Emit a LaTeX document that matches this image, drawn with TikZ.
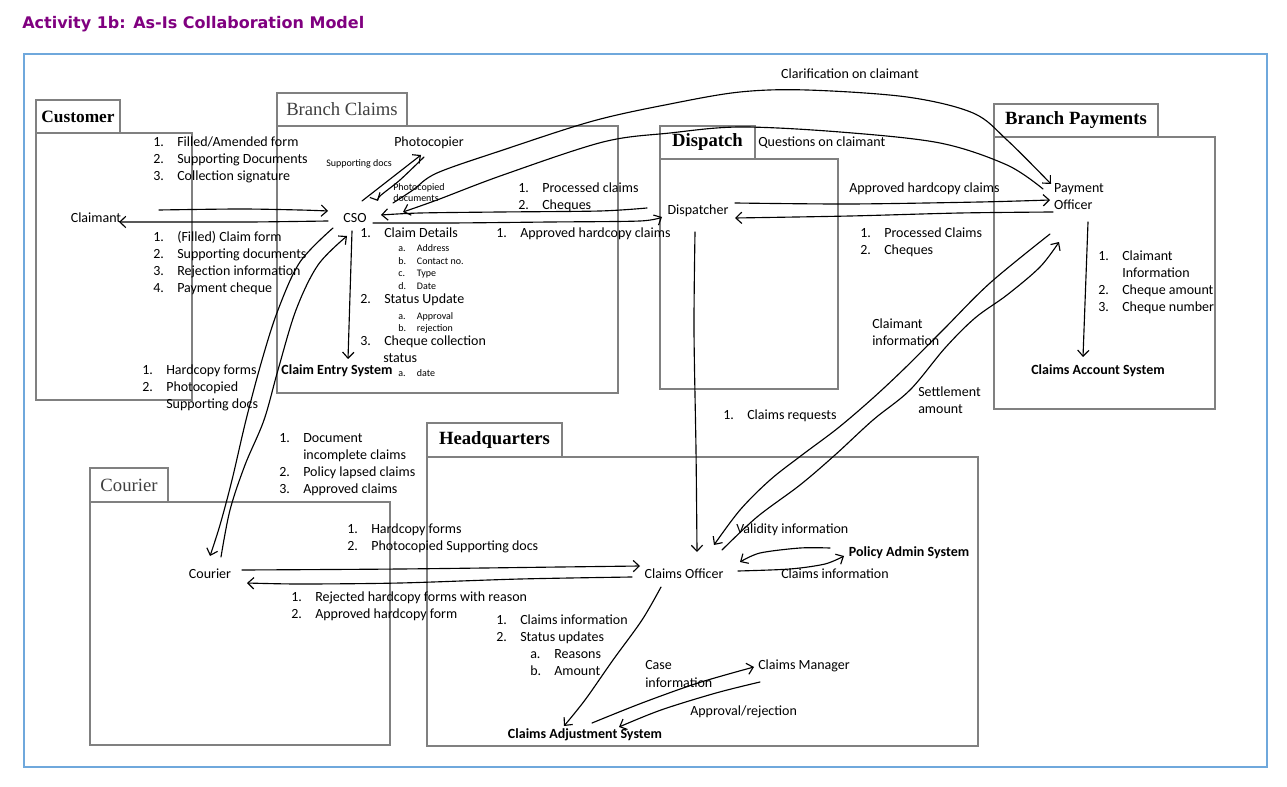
\documentclass[tikz,border=0pt]{standalone}
\usepackage{fontspec}
\setmainfont{Carlito}
\newfontfamily\tabfont{Liberation Serif}
\newfontfamily\titlefont{DejaVu Sans}
\usetikzlibrary{arrows.meta}
\definecolor{framecol}{HTML}{6FA8DC}
\definecolor{titlecol}{HTML}{800080}
\definecolor{lanecol}{HTML}{808080}
\definecolor{tabgrey}{HTML}{404040}
\newcommand\fBody{\fontsize{10.5pt}{12.75pt}\selectfont}
\newcommand\fSmall{\fontsize{7.5pt}{9pt}\selectfont}
\newcommand\fTab{\tabfont\bfseries\fontsize{14pt}{16pt}\selectfont}
\newcommand\fTabR{\tabfont\fontsize{14pt}{16pt}\selectfont\color{tabgrey}}
\tikzset{
  lane/.style={draw=lanecol, line width=1.1pt},
  tabbox/.style={draw=lanecol, line width=1.1pt, fill=white, inner sep=0pt, font=\fTab},
  lbl/.style={anchor=west, inner sep=0pt, text height=6.8pt, text depth=0pt, font=\fBody},
  slbl/.style={anchor=west, inner sep=0pt, text height=4.9pt, text depth=0pt, font=\fSmall},
  actor/.style={inner sep=0pt, text height=6.8pt, text depth=0pt, font=\fBody},
  sysn/.style={actor, font=\fBody\bfseries},
  flow/.style={draw, line width=0.85pt, line cap=round, line join=round,
    -{Straight Barb[length=4.5pt,width=8.5pt]}},
}
\newcommand\LI[5]{\node[lbl] (#1) at (#2,#3) {\makebox[18pt][l]{#4}#5};}
\newcommand\LS[5]{\node[slbl] (#1) at (#2,#3) {\makebox[14pt][l]{#4}#5};}
\newcommand\LT[4]{\node[lbl] (#1) at (#2,#3) {#4};}
\begin{document}
\begin{tikzpicture}[x=0.75pt,y=-0.75pt]
\useasboundingbox (0,0) rectangle (1287,787);
% title and frame
\node[anchor=west, inner sep=0pt, font=\titlefont\bfseries\fontsize{12pt}{14pt}\selectfont, text=titlecol] (title) at (22,24) {Activity 1b: As-Is Collaboration Model};
\draw[framecol, line width=1.1pt] (24,54) rectangle (1267,767);
% lanes
\draw[lane] (36,133) rectangle (192,400);
\node[tabbox, minimum width=63pt, minimum height=24.75pt, font=\tabfont\bfseries\fontsize{13pt}{15pt}\selectfont] (tabCustomer) at (78,116.5) {Customer};
\draw[lane] (277,126) rectangle (618,393);
\node[tabbox, minimum width=97.5pt, minimum height=24.75pt, font=\fTabR] (tabBranchClaims) at (342,109.5) {Branch Claims};
\draw[lane] (660,159) rectangle (838,389);
\node[tabbox, minimum width=71.25pt, minimum height=24.75pt] (tabDispatch) at (707.5,142.5) {Dispatch};
\draw[lane] (994,137) rectangle (1215,409);
\node[tabbox, minimum width=123pt, minimum height=24.75pt] (tabBranchPayments) at (1076,120.5) {Branch Payments};
\draw[lane] (90,502) rectangle (390,745);
\node[tabbox, minimum width=58.5pt, minimum height=25.5pt, font=\fTabR] (tabCourier) at (129,485) {Courier};
\draw[lane] (427,457) rectangle (978,746);
\node[tabbox, minimum width=101.25pt, minimum height=25.5pt] (tabHQ) at (494.5,440) {Headquarters};
% actors and systems
\node[actor] (claimant) at (96,218) {Claimant};
\node[actor] (cso) at (355,218) {CSO};
\node[actor] (photo) at (429,142) {Photocopier};
\node[sysn] (ces) at (337,370) {Claim Entry System};
\node[actor] (disp) at (698,210) {Dispatcher};
\node[inner sep=0pt, font=\fBody, align=left] (po) at (1079,197) {Payment\\Officer};
\node[sysn] (cas) at (1098,370) {Claims Account System};
\node[actor] (courier) at (210,574) {Courier};
\node[actor] (co) at (684,574) {Claims Officer};
\node[sysn] (pas) at (909,552) {Policy Admin System};
\node[actor] (cm) at (804,665) {Claims Manager};
\node[sysn] (cadj) at (585,734) {Claims Adjustment System};
% labels
\LI{l1a}{153}{142}{1.}{Filled/Amended form}
\LI{l1b}{153}{159}{2.}{Supporting Documents}
\LI{l1c}{153}{176}{3.}{Collection signature}
\LI{l2a}{153}{237}{1.}{(Filled) Claim form}
\LI{l2b}{153}{254}{2.}{Supporting documents}
\LI{l2c}{153}{271}{3.}{Rejection information}
\LI{l2d}{153}{288}{4.}{Payment cheque}
\LI{l3a}{142}{370}{1.}{Hardcopy forms}
\LI{l3b}{142}{387}{2.}{Photocopied}
\LT{l3c}{166}{404}{Supporting docs}
\node[slbl] (sdocs) at (326,163) {Supporting docs};
\node[slbl] (pdocs1) at (393,187) {Photocopied};
\node[slbl] (pdocs2) at (393,198) {documents};
\LI{l4a}{360}{233}{1.}{Claim Details}
\LS{l4a1}{398}{248}{a.}{Address}
\LS{l4a2}{398}{261}{b.}{Contact no.}
\LS{l4a3}{398}{273}{c.}{Type}
\LS{l4a4}{398}{286}{d.}{Date}
\LI{l4b}{360}{299}{2.}{Status Update}
\LS{l4b1}{398}{316}{a.}{Approval}
\LS{l4b2}{398}{328}{b.}{rejection}
\LI{l4c}{360}{341}{3.}{Cheque collection}
\LT{l4c2}{383}{358}{status}
\LS{l4c3}{398}{373}{a.}{date}
\LI{l5a}{518}{188}{1.}{Processed claims}
\LI{l5b}{518}{205}{2.}{Cheques}
\LI{l6}{496}{233}{1.}{Approved hardcopy claims}
\LT{l7}{758}{142}{Questions on claimant}
\node[lbl, anchor=center] (l8) at (850,74) {Clarification on claimant};
\LT{l9}{849}{188}{Approved hardcopy claims}
\LI{l10a}{860}{233}{1.}{Processed Claims}
\LI{l10b}{860}{250}{2.}{Cheques}
\LI{l11a}{1098}{256}{1.}{Claimant}
\LT{l11b}{1122}{273}{Information}
\LI{l11c}{1098}{290}{2.}{Cheque amount}
\LI{l11d}{1098}{307}{3.}{Cheque number}
\LT{l12a}{872}{324}{Claimant}
\LT{l12b}{872}{341}{information}
\LT{l13a}{918}{392}{Settlement}
\LT{l13b}{918}{409}{amount}
\LI{l14}{723}{415}{1.}{Claims requests}
\LI{l15a}{279}{438}{1.}{Document}
\LT{l15b}{303}{455}{incomplete claims}
\LI{l15c}{279}{472}{2.}{Policy lapsed claims}
\LI{l15d}{279}{489}{3.}{Approved claims}
\LI{l16a}{347}{529}{1.}{Hardcopy forms}
\LI{l16b}{347}{546}{2.}{Photocopied Supporting docs}
\LI{l17a}{291}{597}{1.}{Rejected hardcopy forms with reason}
\LI{l17b}{291}{614}{2.}{Approved hardcopy form}
\LI{l18a}{496}{620}{1.}{Claims information}
\LI{l18b}{496}{637}{2.}{Status updates}
\LI{l18c}{530}{654}{a.}{Reasons}
\LI{l18d}{530}{671}{b.}{Amount}
\LT{l19}{736}{529}{Validity information}
\LT{l20}{781}{574}{Claims information}
\LT{l21a}{645}{665}{Case}
\LT{l21b}{645}{683}{information}
\LT{l22}{690}{711}{Approval/rejection}
% connector end points
\coordinate (c1s) at ([shift={(63,-8)}]claimant.center);
\coordinate (c1e) at ([shift={(-27,-7)}]cso.center);
\coordinate (c2s) at ([shift={(-27,3)}]cso.center);
\coordinate (c2e) at ([shift={(23,4)}]claimant.center);
\coordinate (c3s) at ([shift={(7,-17)}]cso.center);
\coordinate (c3e) at ([shift={(-8,13)}]photo.center);
\coordinate (c4s) at ([shift={(-5,15)}]photo.center);
\coordinate (c4e) at ([shift={(23,-17)}]cso.center);
\coordinate (c5s) at ([shift={(-51,-2)}]disp.center);
\coordinate (c5e) at ([shift={(26,-3)}]cso.center);
\coordinate (c6s) at ([shift={(18,5)}]cso.center);
\coordinate (c6e) at ([shift={(-36,7)}]disp.center);
\coordinate (c7s) at ([shift={(38,-15)}]cso.center);
\coordinate (c7e) at ([shift={(-28,-13)}]po.center);
\coordinate (c8s) at ([shift={(-36,-8)}]po.center);
\coordinate (c8e) at ([shift={(48,-6)}]cso.center);
\coordinate (c9s) at ([shift={(37,-7)}]disp.center);
\coordinate (c9e) at ([shift={(-29,3)}]po.center);
\coordinate (c10s) at ([shift={(-26,15)}]po.center);
\coordinate (c10e) at ([shift={(37,8)}]disp.center);
\coordinate (c11s) at ([shift={(9,25)}]po.center);
\coordinate (c11e) at ([shift={(-15,-13)}]cas.center);
\coordinate (c12s) at ([shift={(-3,13)}]cso.center);
\coordinate (c12e) at ([shift={(11,-11)}]ces.center);
\coordinate (c13s) at ([shift={(-22,10)}]cso.center);
\coordinate (c13e) at ([shift={(0,-18)}]courier.center);
\coordinate (c14s) at ([shift={(11,-17)}]courier.center);
\coordinate (c14e) at ([shift={(-8,18)}]cso.center);
\coordinate (c15s) at ([shift={(32,-4)}]courier.center);
\coordinate (c15e) at ([shift={(-44,-8)}]co.center);
\coordinate (c16s) at ([shift={(-52,3)}]co.center);
\coordinate (c16e) at ([shift={(37,9)}]courier.center);
\coordinate (c17s) at ([shift={(-3,22)}]disp.center);
\coordinate (c17e) at ([shift={(13,-22)}]co.center);
\coordinate (c18s) at ([shift={(-29,37)}]po.center);
\coordinate (c18e) at ([shift={(30,-29)}]co.center);
\coordinate (c19s) at ([shift={(38,-24)}]co.center);
\coordinate (c19e) at ([shift={(-20,45)}]po.center);
\coordinate (c20s) at ([shift={(54,-3)}]co.center);
\coordinate (c20e) at ([shift={(-65,4)}]pas.center);
\coordinate (c21s) at ([shift={(-79,-4)}]pas.center);
\coordinate (c21e) at ([shift={(56,-12)}]co.center);
\coordinate (c22s) at ([shift={(-23,13)}]co.center);
\coordinate (c22e) at ([shift={(-21,-8)}]cadj.center);
\coordinate (c23s) at ([shift={(7,-11)}]cadj.center);
\coordinate (c23e) at ([shift={(-50,2)}]cm.center);
\coordinate (c24s) at ([shift={(-44,17)}]cm.center);
\coordinate (c24e) at ([shift={(34,-7)}]cadj.center);
% connectors
\draw[flow] plot[smooth, tension=0.5] coordinates {(c1s) (240,209) (300,210) (c1e)};
\draw[flow] plot[smooth, tension=0.5] coordinates {(c2s) (250,222) (170,222) (c2e)};
\draw[flow] (c3s) -- (c3e);
\draw[flow] plot[smooth, tension=0.5] coordinates {(c4s) (400,180) (380,196) (c4e)};
\draw[flow] plot[smooth, tension=0.5] coordinates {(c5s) (600,211) (500,212) (420,213) (c5e)};
\draw[flow] plot[smooth, tension=0.5] coordinates {(c6s) (450,223) (550,222) (640,221) (c6e)};
\draw[flow] plot[smooth, tension=0.55] coordinates {(c7s) (413,190) (437,173) (503,150) (593,121) (670,104) (740,92) (807,90) (907,97) (973,113) (1007,140) (c7e)};
\draw[flow] plot[smooth, tension=0.55] coordinates {(c8s) (1007,165) (940,143) (840,132) (740,127) (670,133) (603,142) (503,175) (437,200) (c8e)};
\draw[flow] plot[smooth, tension=0.5] coordinates {(c9s) (850,204) (980,202) (c9e)};
\draw[flow] plot[smooth, tension=0.5] coordinates {(c10s) (960,213) (850,216) (c10e)};
\draw[flow] (c11s) -- (c11e);
\draw[flow] (c12s) -- (c12e);
\draw[flow] plot[smooth, tension=0.55] coordinates {(c13s) (300,262) (278,310) (262,360) (246,420) (232,480) (220,525) (c13e)};
\draw[flow] plot[smooth, tension=0.55] coordinates {(c14s) (230,510) (245,465) (264,420) (278,370) (296,310) (318,265) (c14e)};
\draw[flow] plot[smooth, tension=0.5] coordinates {(c15s) (400,569) (560,567) (c15e)};
\draw[flow] plot[smooth, tension=0.5] coordinates {(c16s) (520,579) (400,583) (300,584) (c16e)};
\draw[flow] plot[smooth, tension=0.5] coordinates {(c17s) (694,330) (696,450) (c17e)};
\draw[flow] plot[smooth, tension=0.55] coordinates {(c18s) (990,283) (943,330) (905,368) (873,398) (838,428) (802,455) (770,480) (740,510) (c18e)};
\draw[flow] plot[smooth, tension=0.55] coordinates {(c19s) (757,517) (800,485) (835,455) (873,420) (910,390) (945,348) (975,318) (1007,295) (1040,267) (c19e)};
\draw[flow] plot[smooth, tension=0.5] coordinates {(c20s) (790,569) (825,564) (c20e)};
\draw[flow] plot[smooth, tension=0.5] coordinates {(c21s) (800,548) (760,553) (c21e)};
\draw[flow] plot[smooth, tension=0.55] coordinates {(c22s) (642,620) (613,660) (585,700) (c22e)};
\draw[flow] plot[smooth, tension=0.55] coordinates {(c23s) (642,703) (698,683) (c23e)};
\draw[flow] plot[smooth, tension=0.55] coordinates {(c24s) (716,693) (661,710) (c24e)};
\end{tikzpicture}
\end{document}
